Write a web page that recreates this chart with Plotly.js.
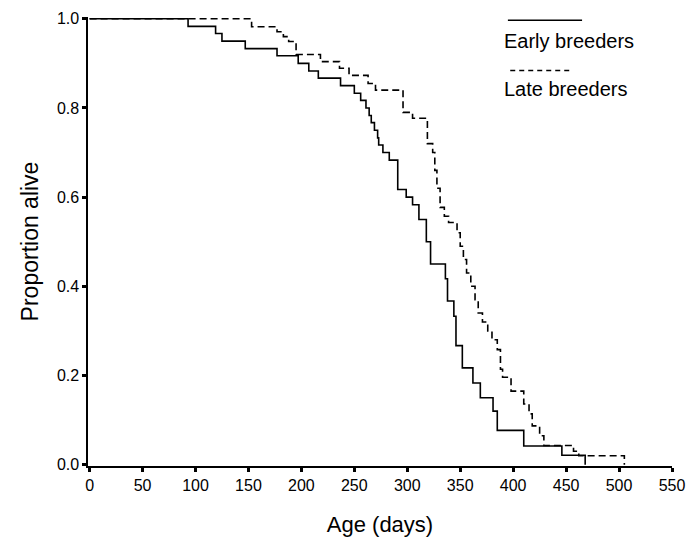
<!DOCTYPE html>
<html>
<head>
<meta charset="utf-8">
<script src="https://cdn.plot.ly/plotly-3.0.1.min.js"></script>
<style>html,body{margin:0;padding:0;background:#fff;}#chart{width:695px;height:542px;}</style>
</head>
<body>
<div id="chart"></div>
<script>
// Early breeders (solid) - Kaplan-Meier steps
const earlyDays = [0, 93, 119, 125, 147, 177, 197, 207, 216, 237, 250, 256, 261, 264, 266, 269, 272, 273, 277, 283, 291, 299, 305, 311, 318, 322, 336, 338, 344, 346, 352, 362, 369, 381, 385, 410, 446, 468];
const earlySurv = [1.0, 0.983, 0.967, 0.950, 0.933, 0.917, 0.900, 0.883, 0.867, 0.850, 0.833, 0.817, 0.800, 0.783, 0.767, 0.750, 0.733, 0.717, 0.700, 0.683, 0.617, 0.600, 0.583, 0.550, 0.500, 0.450, 0.417, 0.367, 0.333, 0.267, 0.217, 0.183, 0.150, 0.120, 0.077, 0.042, 0.021, 0.0];

// Late breeders (dashed)
const lateDays = [0, 153, 177, 183, 188, 195, 218, 236, 245, 263, 270, 296, 305, 319, 324, 326, 328, 331, 335, 339, 347, 350, 353, 356, 360, 364, 367, 371, 376, 380, 385, 388, 390, 398, 410, 415, 418, 425, 429, 457, 462, 505];
const lateSurv = [1.0, 0.982, 0.971, 0.960, 0.949, 0.920, 0.904, 0.889, 0.873, 0.855, 0.840, 0.790, 0.777, 0.720, 0.700, 0.660, 0.620, 0.577, 0.557, 0.543, 0.520, 0.490, 0.460, 0.430, 0.400, 0.370, 0.340, 0.320, 0.300, 0.280, 0.258, 0.214, 0.196, 0.165, 0.136, 0.114, 0.087, 0.065, 0.043, 0.030, 0.020, 0.0];

const xTicks = [0, 50, 100, 150, 200, 250, 300, 350, 400, 450, 500, 550];
const yTicks = [0.0, 0.2, 0.4, 0.6, 0.8, 1.0];
const seriesNames = ["Early breeders", "Late breeders"];

const FONT = "Liberation Sans, Arial, sans-serif";

const traces = [
  {x: earlyDays, y: earlySurv, mode: "lines", line: {shape: "hv", color: "#000", width: 1.6}, name: seriesNames[0], showlegend: false},
  {x: lateDays, y: lateSurv, mode: "lines", line: {shape: "hv", color: "#000", width: 1.6, dash: "7px,4px"}, name: seriesNames[1], showlegend: false}
];

const layout = {
  width: 695, height: 542,
  margin: {l: 88, r: 23, t: 17, b: 76},
  paper_bgcolor: "#fff", plot_bgcolor: "#fff",
  font: {family: FONT, color: "#000"},
  xaxis: {
    range: [-1.5, 550], tickvals: xTicks, ticktext: xTicks.map(String),
    showline: true, linecolor: "#000", linewidth: 1.6,
    ticks: "outside", ticklen: 4, tickwidth: 3, tickcolor: "#000",
    showgrid: false, zeroline: false,
    tickfont: {size: 16, family: FONT},
    title: {text: "Age (days)", font: {size: 22, family: FONT}, standoff: 24}
  },
  yaxis: {
    range: [-0.003, 1.004], tickvals: yTicks, ticktext: yTicks.map(v => v.toFixed(1)),
    showline: true, linecolor: "#000", linewidth: 1.6,
    ticks: "outside", ticklen: 4, tickwidth: 3, tickcolor: "#000",
    showgrid: false, zeroline: false,
    tickfont: {size: 16, family: FONT},
    title: {text: "Proportion alive", font: {size: 23, family: FONT}, standoff: 12}
  },
  shapes: [
    {type: "line", xref: "paper", yref: "paper", x0: 0.719, x1: 0.846, y0: 0.993, y1: 0.993, line: {color: "#000", width: 1.5}},
    {type: "line", xref: "paper", yref: "paper", x0: 0.723, x1: 0.826, y0: 0.881, y1: 0.881, line: {color: "#000", width: 1.5, dash: "5px,4px"}}
  ],
  annotations: [
    {xref: "paper", yref: "paper", x: 0.709, y: 0.946, xanchor: "left", yanchor: "middle", text: seriesNames[0], showarrow: false, font: {size: 20, family: FONT}},
    {xref: "paper", yref: "paper", x: 0.709, y: 0.840, xanchor: "left", yanchor: "middle", text: seriesNames[1], showarrow: false, font: {size: 20, family: FONT}}
  ]
};

Plotly.newPlot("chart", traces, layout, {displayModeBar: false, staticPlot: true});
</script>
</body>
</html>
